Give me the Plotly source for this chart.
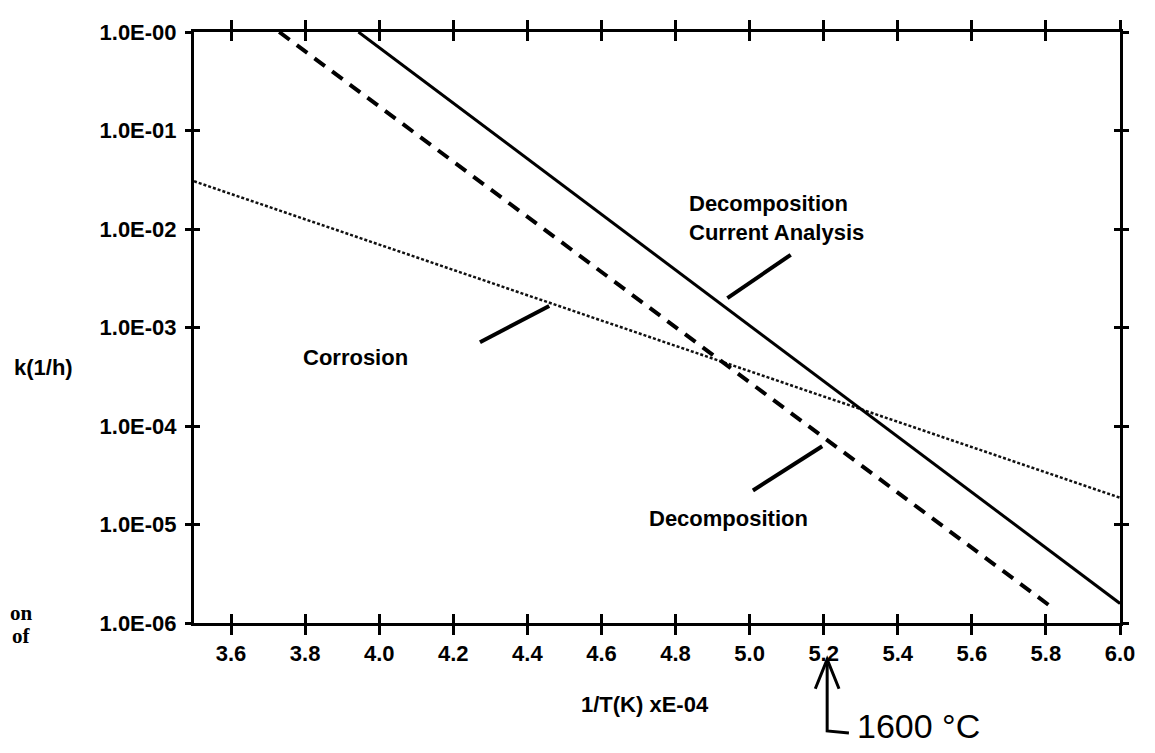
import plotly.graph_objects as go

# ---- data ----
x_corrosion = [3.5, 6.0]
k_corrosion = [3.05e-2, 1.87e-5]

x_current = [3.944, 6.0]
k_current = [1.0, 1.58e-6]

x_decomp = [3.73, 5.81]
k_decomp = [1.0, 1.5e-6]

x_ticks = [3.6, 3.8, 4.0, 4.2, 4.4, 4.6, 4.8, 5.0, 5.2, 5.4, 5.6, 5.8, 6.0]
x_tick_text = ["3.6", "3.8", "4.0", "4.2", "4.4", "4.6", "4.8", "5.0", "5.2", "5.4", "5.6", "5.8", "6.0"]
y_ticks = [1.0, 1e-1, 1e-2, 1e-3, 1e-4, 1e-5, 1e-6]
y_tick_text = ["1.0E-00", "1.0E-01", "1.0E-02", "1.0E-03", "1.0E-04", "1.0E-05", "1.0E-06"]

# pointer strokes (data coords: 1/T, k)
pointers = [
    ((4.272, 10 ** -3.150), (4.459, 10 ** -2.781)),   # corrosion
    ((4.940, 10 ** -2.701), (5.111, 10 ** -2.262)),   # current analysis
    ((5.009, 10 ** -4.655), (5.196, 10 ** -4.206)),   # decomposition
]

# the page body has an 8px margin; size the figure so it fits the window
OFF = 8
W, H = 1155 - 2 * OFF, 753 - 2 * OFF
PLOT_L, PLOT_R, PLOT_T, PLOT_B = 194, 1130, 21, 623   # screen pixels
ML, MT = PLOT_L - OFF, PLOT_T - OFF
MR, MB = (W + OFF) - PLOT_R, (H + OFF) - PLOT_B
PW, PH = PLOT_R - PLOT_L, PLOT_B - PLOT_T

def px(xs):
    return (xs - PLOT_L) / PW

def py(ys):
    return (PLOT_B - ys) / PH

FONT = "Liberation Sans, Arial, sans-serif"
fs = 22

fig = go.Figure()

fig.add_trace(go.Scatter(x=x_corrosion, y=k_corrosion, mode="lines",
                         line=dict(color="#111111", width=2.5, dash="3px,2px"),
                         showlegend=False, hoverinfo="skip"))
fig.add_trace(go.Scatter(x=x_decomp, y=k_decomp, mode="lines",
                         line=dict(color="black", width=4, dash="13px,9px"),
                         showlegend=False, hoverinfo="skip"))
fig.add_trace(go.Scatter(x=x_current, y=k_current, mode="lines",
                         line=dict(color="black", width=3),
                         showlegend=False, hoverinfo="skip"))
# dummy trace for the overlay axes (inside tick halves)
fig.add_trace(go.Scatter(x=[4.0], y=[1e-3], mode="markers", marker=dict(opacity=0),
                         xaxis="x2", yaxis="y2", showlegend=False, hoverinfo="skip"))

for (a, b) in pointers:
    fig.add_trace(go.Scatter(x=[a[0], b[0]], y=[a[1], b[1]], mode="lines",
                             line=dict(color="black", width=4),
                             showlegend=False, hoverinfo="skip"))

common_x = dict(range=[3.5, 6.0], tickvals=x_ticks, showgrid=False, zeroline=False,
                linecolor="black", linewidth=3, tickcolor="black", tickwidth=3)
common_y = dict(type="log", range=[-6, 0], tickvals=y_ticks, showgrid=False, zeroline=False,
                linecolor="black", linewidth=3, tickcolor="black", tickwidth=3)

fig.update_layout(
    width=W, height=H,
    margin=dict(l=ML, r=MR, t=MT, b=MB),
    paper_bgcolor="white", plot_bgcolor="white",
    xaxis=dict(**common_x, ticktext=["<b>%s</b>" % t for t in x_tick_text],
               ticks="outside", ticklen=9, showline=True, mirror="ticks",
               tickfont=dict(family=FONT, size=fs, color="black")),
    yaxis=dict(**common_y, ticktext=["<b>%s</b>" % t for t in y_tick_text],
               ticks="outside", ticklen=6, showline=True, mirror="ticks",
               ticklabelstandoff=4,
               tickfont=dict(family=FONT, size=fs, color="black")),
    xaxis2=dict(**common_x, overlaying="x", anchor="y2", side="bottom",
                ticks="inside", ticklen=9, showline=True, mirror="ticks",
                showticklabels=False),
    yaxis2=dict(**common_y, overlaying="y", anchor="x2", side="left",
                ticks="inside", ticklen=6, showline=True, mirror="ticks",
                showticklabels=False),
)

ann_font = dict(family=FONT, size=fs, color="black")
fig.add_annotation(x=4.830, y=-1.884, xref="x", yref="y", xanchor="left", yanchor="middle",
                   text="<b>Decomposition<br>Current Analysis</b>", showarrow=False,
                   align="left", font=ann_font)
fig.add_annotation(x=3.935, y=-3.309, xref="x", yref="y", xanchor="center", yanchor="middle",
                   text="<b>Corrosion</b>", showarrow=False, font=ann_font)
fig.add_annotation(x=4.942, y=-4.944, xref="x", yref="y", xanchor="center", yanchor="middle",
                   text="<b>Decomposition</b>", showarrow=False, font=ann_font)
fig.add_annotation(x=px(42), y=py(363), xref="paper", yref="paper", xanchor="center",
                   yanchor="middle", text="<b>k(1/h)</b>", showarrow=False, font=ann_font)
fig.add_annotation(x=px(650), y=py(706), xref="paper", yref="paper", xanchor="center",
                   yanchor="middle", text="<b>1/T(K) xE-04</b>", showarrow=False, font=ann_font)
# cut-off caption fragments at the left edge
serif = dict(family="Liberation Serif, Times New Roman, serif", size=21, color="black")
fig.add_annotation(x=px(33), y=py(613), xref="paper", yref="paper", xanchor="right",
                   yanchor="middle", text="<b>on</b>", showarrow=False, font=serif)
fig.add_annotation(x=px(31), y=py(636), xref="paper", yref="paper", xanchor="right",
                   yanchor="middle", text="<b>of</b>", showarrow=False, font=serif)

# handwritten note: arrow to 5.2 and "1600 °C"
fig.add_shape(type="path", xref="paper", yref="paper",
              path="M %f,%f L %f,%f L %f,%f" % (px(822), py(690), px(834), py(660), px(846), py(690)),
              line=dict(color="black", width=3))
fig.add_shape(type="path", xref="paper", yref="paper",
              path="M %f,%f L %f,%f L %f,%f" % (px(834), py(664), px(834), py(733), px(856), py(735)),
              line=dict(color="black", width=3))
fig.add_annotation(x=px(862), y=py(728), xref="paper", yref="paper", xanchor="left",
                   yanchor="middle", text="1600 °C", showarrow=False,
                   font=dict(family="Liberation Sans, sans-serif", size=34, color="black"))

fig.write_html("out.html")
